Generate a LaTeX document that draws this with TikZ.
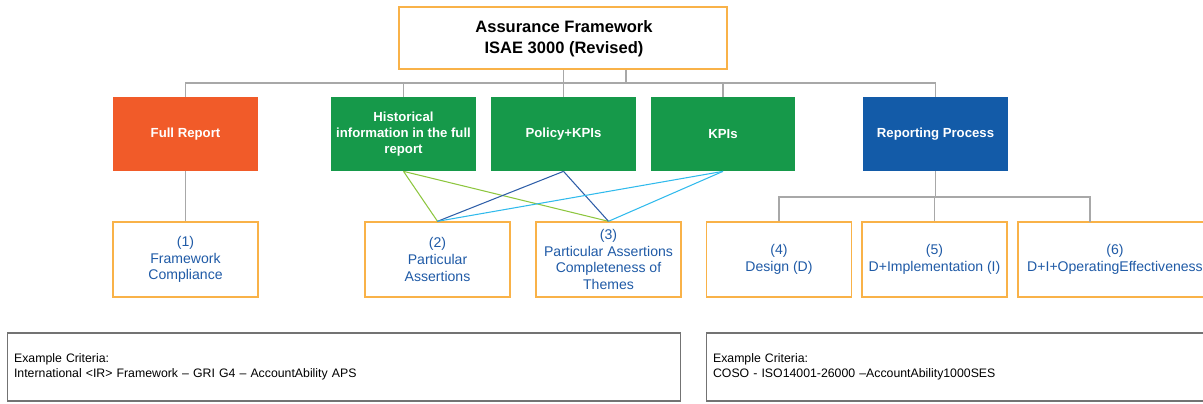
\documentclass[tikz,border=0pt]{standalone}
\usepackage{fontspec}
\setmainfont{Liberation Sans}

\definecolor{boxorange}{RGB}{249,178,72}
\definecolor{fullorange}{RGB}{241,91,41}
\definecolor{catgreen}{RGB}{22,153,74}
\definecolor{repblue}{RGB}{19,91,168}
\definecolor{txtblue}{RGB}{31,90,166}
\definecolor{linegray}{RGB}{168,168,168}
\definecolor{lgreen}{RGB}{141,198,63}
\definecolor{dblue}{RGB}{46,94,168}
\definecolor{lblue}{RGB}{48,186,236}

\tikzset{
	topbox/.style={draw=boxorange, line width=0.8pt, fill=white, minimum width=6.56cm, minimum height=1.24cm},
	catbox/.style={minimum width=2.9cm, minimum height=1.48cm, inner sep=2pt, text=white, align=center,
		font=\fontsize{7.5}{9}\selectfont\bfseries},
	levelbox/.style={draw=boxorange, line width=0.8pt, minimum width=2.9cm, minimum height=1.5cm, inner sep=2pt,
		text=txtblue, align=center, font=\fontsize{8}{9.5}\selectfont},
	critbox/.style={draw=black!55, line width=0.6pt, minimum height=1.36cm, inner xsep=0.14cm, align=left,
		font=\fontsize{7}{8.5}\selectfont},
	conn/.style={draw=linegray, line width=0.6pt},
}

\begin{document}
\begin{tikzpicture}[x=0.02cm,y=-0.02cm]
	\clip (0,0) rectangle (1203,403);
	\useasboundingbox (0,0) rectangle (1203,403);
	
	%Framework
	\node[topbox] (top) at (563,38) {};
	\node[font=\fontsize{9.4}{12}\selectfont\bfseries, align=center] (toptxt) at (564,39) {Assurance Framework\\ISAE 3000 (Revised)};
	
	%Subject matter
	\node[catbox, fill=fullorange] (full) at (185.5,134) {Full Report};
	\node[catbox, fill=catgreen] (hist) at (403.5,134) {Historical\\information in the full\\report};
	\node[catbox, fill=catgreen] (pol) at (563.5,134) {Policy+KPIs};
	\node[catbox, fill=catgreen] (kpi) at (723,134) {KPIs};
	\node[catbox, fill=repblue] (rep) at (935.5,134) {Reporting Process};
	
	%Assurance levels
	\node[levelbox] (c1) at (185.5,259.5) {(1)\\Framework\\Compliance};
	\node[levelbox] (c2) at (437.5,259.5) {(2)\\Particular\\Assertions};
	\node[levelbox] (c3) at (608.5,259.5) {(3)\\Particular Assertions\\Completeness of\\Themes};
	\node[levelbox] (c4) at (779,259.5) {(4)\\Design (D)};
	\node[levelbox] (c5) at (934.5,259.5) {(5)\\D+Implementation (I)};
	\node[levelbox, minimum width=3.88cm] (c6) at (1115,259.5) {(6)\\D+I+OperatingEffectiveness};
	
	%Criteria
	\node[critbox, minimum width=13.48cm, text width=13.2cm] (crit1) at (344,367) {Example Criteria:\\International <IR> Framework -- GRI G4 -- AccountAbility APS};
	\node[critbox, minimum width=10.28cm, text width=10cm] (crit2) at (963,367) {Example Criteria:\\COSO - ISO14001-26000 --AccountAbility1000SES};
	
	%Tree lines
	\coordinate (bus1) at (626,83);
	\coordinate (bus2) at (935,197);
	\coordinate (c6top) at (1090,222);
	\draw[conn] (top.south -| bus1) -- (bus1);
	\draw[conn] (full.north) |- (bus1);
	\draw[conn] (rep.north) |- (bus1);
	\draw[conn] (hist.north) -- (hist.north |- bus1);
	\draw[conn] (kpi.north) -- (kpi.north |- bus1);
	\draw[conn] (top.south -| pol.north) -- (pol.north);
	\draw[conn] (full.south) -- (c1.north);
	\draw[conn] (rep.south) -- (rep.south |- bus2);
	\draw[conn] (c4.north) |- (bus2) -| (c6top);
	\draw[conn] (c5.north) -- (c5.north |- bus2);
	
	%Crossing lines
	\draw[lgreen, line width=0.6pt] (hist.south) -- (c2.north);
	\draw[lgreen, line width=0.6pt] (hist.south) -- (c3.north);
	\draw[dblue, line width=0.6pt] (pol.south) -- (c2.north);
	\draw[dblue, line width=0.6pt] (pol.south) -- (c3.north);
	\draw[lblue, line width=0.6pt] (kpi.south) -- (c2.north);
	\draw[lblue, line width=0.6pt] (kpi.south) -- (c3.north);
	
\end{tikzpicture}
\end{document}
